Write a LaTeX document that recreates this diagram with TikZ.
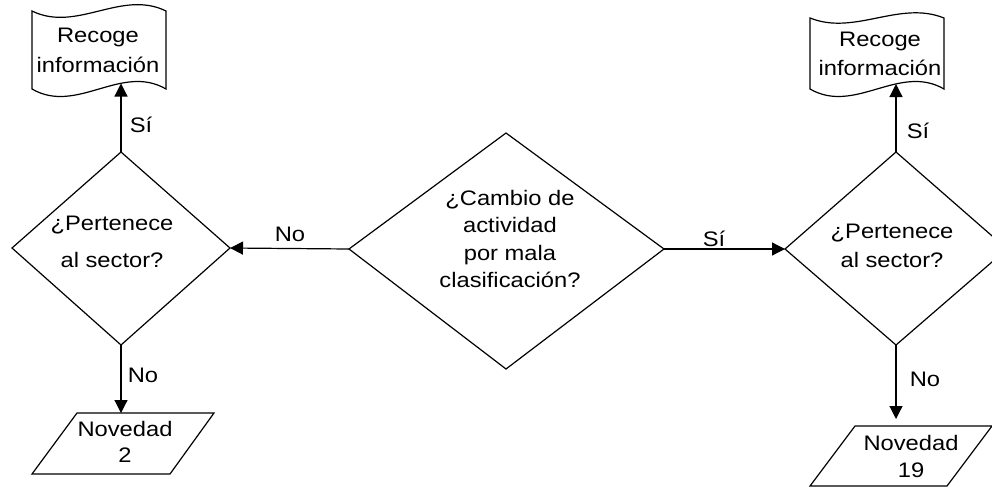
\documentclass[tikz,border=0pt]{standalone}
\usepackage{fontspec}
\setmainfont{Liberation Sans}[FakeStretch=1.13]
\usetikzlibrary{arrows.meta}
\tikzset{
  outline/.style={line width=1.2pt, line join=miter},
  conn/.style={line width=1.2pt, -{Triangle[length=13pt,width=13pt]}},
  txt/.style={align=center, font=\fontsize{21}{27.5}\selectfont, inner sep=0pt},
  lbl/.style={font=\fontsize{21}{25}\selectfont, inner sep=0pt},
}
\begin{document}
\begin{tikzpicture}[x=1pt,y=-1pt]
\useasboundingbox (0,0) rectangle (992,487);
\clip (0,0) rectangle (992,487);
% diamonds
\coordinate (Lt) at (121,152); \coordinate (Lr) at (230,248);
\coordinate (Lb) at (121,345); \coordinate (Ll) at (12,248);
\coordinate (Ct) at (506,133); \coordinate (Cr) at (664,249);
\coordinate (Cb) at (506,369); \coordinate (Cl) at (349,249);
\coordinate (Rt) at (896,152); \coordinate (Rl) at (785,249);
\coordinate (Rb) at (896,345); \coordinate (Rr) at (1007,249);
\draw[outline] (Lt) -- (Lr) -- (Lb) -- (Ll) -- cycle;
\draw[outline] (Ct) -- (Cr) -- (Cb) -- (Cl) -- cycle;
\draw[outline] (Rt) -- (Rr) -- (Rb) -- (Rl) -- cycle;
% tapes
\draw[outline] (32,11) .. controls (76.7,33) and (121.3,-11) .. (166,11)
  -- (166,89) .. controls (121.3,63) and (76.7,115) .. (32,89) -- cycle;
\draw[outline] (810,18) .. controls (854.7,36) and (899.3,0) .. (944,18)
  -- (944,89) .. controls (899.3,63) and (854.7,115) .. (810,89) -- cycle;
\coordinate (LtapeB) at (121,83.5);
\coordinate (RtapeB) at (896,84);
% parallelograms
\draw[outline] (77,413) -- (214,413) -- (170,474) -- (32,474) -- cycle;
\draw[outline] (855,426) -- (992,426) -- (947,486) -- (810,486) -- cycle;
\coordinate (LparT) at (121,413);
\coordinate (RparT) at (896,419);
% texts
\node[txt] (ltape) at (98,50.4) {Recoge\\[2.5pt]información};
\node[txt] (rtape) at (880,53.9) {Recoge\\[1.5pt]información};
\node[txt] (lq) at (112,242) {¿Pertenece\\[9.5pt]al sector?};
\node[txt] (rq) at (892,246) {¿Pertenece\\[1.5pt]al sector?};
\node[txt] (cq) at (510,239) {¿Cambio de\\actividad\\por mala\\clasificación?};
\node[txt] (lnov) at (125,442.3) {Novedad\\[-1.5pt]2};
\node[txt] (rnov) at (911,456) {Novedad\\[-0.5pt]19};
% connectors
\draw[conn] (Cl) -- (Lr);
\draw[conn] (Cr) -- (Rl);
\draw[conn] (Lt) -- (LtapeB);
\draw[conn] (Lb) -- (LparT);
\draw[conn] (Rt) -- (RtapeB);
\draw[conn] (Rb) -- (RparT);
% labels
\node[lbl] (l1) at (141,124.5) {Sí};
\node[lbl] (l2) at (290,234.5) {No};
\node[lbl] (l3) at (143,375.5) {No};
\node[lbl] (l4) at (714,238.5) {Sí};
\node[lbl] (l5) at (918,130.5) {Sí};
\node[lbl] (l6) at (925,379.5) {No};
\end{tikzpicture}
\end{document}
